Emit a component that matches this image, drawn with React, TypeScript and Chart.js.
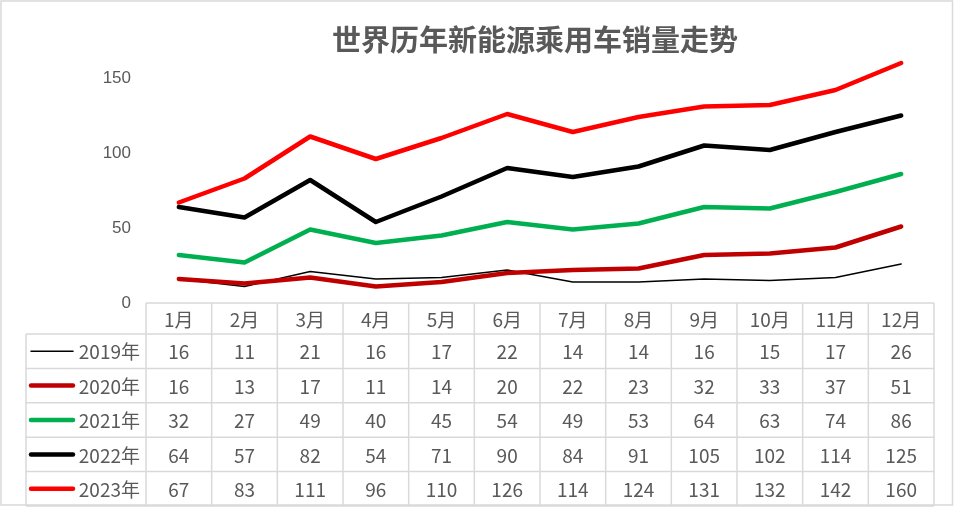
import React, { useEffect, useRef } from 'react';
import { Chart, registerables } from 'chart.js';

Chart.register(...registerables);

const TITLE = '世界历年新能源乘用车销量走势';
const MONTHS = ['1月', '2月', '3月', '4月', '5月', '6月', '7月', '8月', '9月', '10月', '11月', '12月'];
const YEARS = ['2019年', '2020年', '2021年', '2022年', '2023年'];
const Y_TICKS = [0, 50, 100, 150];

const SALES_2019 = [16, 11, 21, 16, 17, 22, 14, 14, 16, 15, 17, 26];
const SALES_2020 = [16, 13, 17, 11, 14, 20, 22, 23, 32, 33, 37, 51];
const SALES_2021 = [32, 27, 49, 40, 45, 54, 49, 53, 64, 63, 74, 86];
const SALES_2022 = [64, 57, 82, 54, 71, 90, 84, 91, 105, 102, 114, 125];
const SALES_2023 = [67, 83, 111, 96, 110, 126, 114, 124, 131, 132, 142, 160];

const SERIES = [SALES_2019, SALES_2020, SALES_2021, SALES_2022, SALES_2023];
const COLORS = ['#000000', '#C00000', '#00B050', '#000000', '#FF0000'];
const WIDTHS = [1.5, 4.5, 4.5, 4.5, 4.5];

const TEXT_COLOR = '#595959';
const GRID_COLOR = '#D9D9D9';
const CJK_FONT = '"Noto Sans CJK SC", "Noto Sans", sans-serif';

// header row + one row per series, drawn under the plot like Excel's data table
const HEADER_H = 31;
const ROW_H = 34.4;
const LEGEND_LEFT = 26;

const tablePlugin = {
  id: 'dataTable',
  afterDraw(chart: Chart) {
    const { ctx, chartArea } = chart;
    const x = chart.scales.x;
    const colW = (chartArea.right - chartArea.left) / MONTHS.length;
    const top = chartArea.bottom;
    const firstRow = top + HEADER_H;
    const bottom = firstRow + ROW_H * YEARS.length;

    ctx.save();

    // outer border of the chart
    ctx.strokeStyle = GRID_COLOR;
    ctx.lineWidth = 1.5;
    ctx.strokeRect(1, 1, 951.5, 504);

    // grid lines
    ctx.beginPath();
    ctx.moveTo(chartArea.left, top);
    ctx.lineTo(chartArea.right, top);
    for (let r = 0; r <= YEARS.length; r++) {
      const y = firstRow + r * ROW_H;
      ctx.moveTo(LEGEND_LEFT, y);
      ctx.lineTo(chartArea.right, y);
    }
    ctx.moveTo(LEGEND_LEFT, firstRow);
    ctx.lineTo(LEGEND_LEFT, bottom);
    for (let c = 0; c <= MONTHS.length; c++) {
      const cx = chartArea.left + c * colW;
      ctx.moveTo(cx, top);
      ctx.lineTo(cx, bottom);
    }
    ctx.stroke();

    ctx.fillStyle = TEXT_COLOR;
    ctx.font = `19px ${CJK_FONT}`;
    ctx.textAlign = 'center';
    ctx.textBaseline = 'middle';

    MONTHS.forEach((m, i) => {
      ctx.fillText(m, x.getPixelForValue(i), top + HEADER_H / 2 + 1);
    });

    SERIES.forEach((values, r) => {
      const cy = firstRow + r * ROW_H + ROW_H / 2 + 1;
      values.forEach((v, i) => {
        ctx.fillText(String(v), x.getPixelForValue(i), cy);
      });
    });

    // legend keys and labels
    YEARS.forEach((label, r) => {
      const cy = firstRow + r * ROW_H + ROW_H / 2;
      ctx.beginPath();
      ctx.strokeStyle = COLORS[r];
      ctx.lineWidth = WIDTHS[r];
      ctx.lineCap = 'round';
      ctx.moveTo(31, cy);
      ctx.lineTo(73, cy);
      ctx.stroke();
      ctx.textAlign = 'right';
      ctx.fillStyle = TEXT_COLOR;
      ctx.fillText(label, 140, cy + 1);
    });

    // title
    ctx.font = `bold 29px ${CJK_FONT}`;
    ctx.textAlign = 'center';
    ctx.fillText(TITLE, 535, 40);

    ctx.restore();
  },
};

export default function App() {
  const chartRef = useRef<HTMLCanvasElement>(null);
  const chartInstance = useRef<Chart | null>(null);

  useEffect(() => {
    if (!chartRef.current) return;
    if (chartInstance.current) {
      chartInstance.current.destroy();
    }
    const ctx = chartRef.current.getContext('2d');
    if (!ctx) return;

    chartInstance.current = new Chart(ctx, {
      type: 'line',
      data: {
        labels: MONTHS,
        datasets: SERIES.map((values, i) => ({
          label: YEARS[i],
          data: values,
          borderColor: COLORS[i],
          backgroundColor: COLORS[i],
          borderWidth: WIDTHS[i],
          borderCapStyle: 'round' as const,
          borderJoinStyle: 'round' as const,
          pointRadius: 0,
          tension: 0,
          order: SERIES.length - i,
        })),
      },
      options: {
        animation: false,
        responsive: true,
        maintainAspectRatio: false,
        layout: {
          padding: { left: 0, right: 22, top: 48, bottom: 204 },
        },
        plugins: {
          legend: { display: false },
          title: { display: false },
          tooltip: { enabled: false },
        },
        scales: {
          x: {
            display: false,
            offset: true,
          },
          y: {
            min: 0,
            max: 170,
            grid: { display: false, drawTicks: false },
            border: { display: false },
            afterFit: (scale: any) => {
              scale.width = 146;
            },
            afterBuildTicks: (scale: any) => {
              scale.ticks = Y_TICKS.map(v => ({ value: v }));
            },
            ticks: {
              color: TEXT_COLOR,
              padding: 15,
              font: { family: '"Liberation Sans", Arial, sans-serif', size: 17 },
            },
          },
        },
      },
      plugins: [tablePlugin],
    });

    return () => {
      if (chartInstance.current) {
        chartInstance.current.destroy();
        chartInstance.current = null;
      }
    };
  }, []);

  return (
    <div style={{ position: 'fixed', left: 0, top: 0, width: '956px', height: '507px', background: '#fff' }}>
      <canvas ref={chartRef}></canvas>
    </div>
  );
}
